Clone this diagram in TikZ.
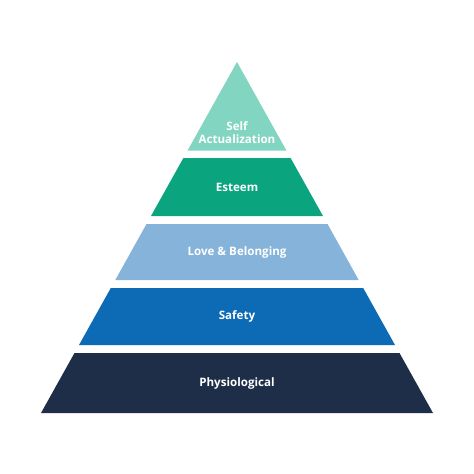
\documentclass[tikz,border=0pt]{standalone}
\usepackage{fontspec}
\setmainfont{Open Sans}
\definecolor{cSelf}{HTML}{82D5C0}
\definecolor{cEsteem}{HTML}{0AA57F}
\definecolor{cLove}{HTML}{86B3DA}
\definecolor{cSafety}{HTML}{0D6BB6}
\definecolor{cPhys}{HTML}{1E2E48}
\tikzset{
  layer/.style={draw=none},
  lbl/.style={text=white, font=\fontsize{11.6}{13}\selectfont\bfseries, align=center, inner sep=0pt}
}
\begin{document}
\begin{tikzpicture}[x=1pt,y=-1pt]
\useasboundingbox[fill=white] (0,0) rectangle (474,474);
% layers
\fill[layer,cSelf] (237,62) -- (286.4,150.5) -- (187.6,150.5) -- cycle;
\fill[layer,cEsteem] (183.4,158) -- (290.6,158) -- (323,216) -- (151,216) -- cycle;
\fill[layer,cLove] (146.5,224) -- (327.5,224) -- (358.7,280) -- (115.3,280) -- cycle;
\fill[layer,cSafety] (110.8,288) -- (363.2,288) -- (395,345) -- (79,345) -- cycle;
\fill[layer,cPhys] (74.5,353) -- (399.5,353) -- (433,413) -- (41,413) -- cycle;
% labels
\node[lbl] (self) at (237,132.5) {Self\\Actualization};
\node[lbl] (esteem) at (237,187) {Esteem};
\node[lbl] (love) at (237,252) {Love \& Belonging};
\node[lbl] (safety) at (237,316.5) {Safety};
\node[lbl] (phys) at (237,383) {Physiological};
\end{tikzpicture}
\end{document}
